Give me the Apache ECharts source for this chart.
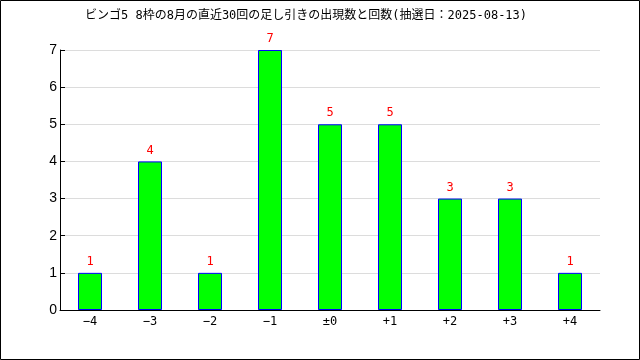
<!DOCTYPE html>
<html><head><meta charset="utf-8">
<script src="https://cdn.jsdelivr.net/npm/echarts@6/dist/echarts.min.js"></script>
<style>html,body{margin:0;padding:0;background:#fff}#c{width:640px;height:360px}</style>
</head><body><div id="c"></div>
<script>
const title = 'ビンゴ5 8枠の8月の直近30回の足し引きの出現数と回数(抽選日：2025-08-13)';
const categories = ['−4','−3','−2','−1','±0','+1','+2','+3','+4'];
const counts = [1,4,1,7,5,5,3,3,1];
const yTicks = [0,1,2,3,4,5,6,7];

const font = '"DejaVu Sans Mono", "Noto Sans CJK JP", monospace';
const chart = echarts.init(document.getElementById('c'), null, {renderer:'canvas'});
chart.setOption({
  animation:false,
  backgroundColor:'#fff',
  textStyle:{fontFamily:font},
  title:{text:title, left:80, top:5, textStyle:{fontSize:12, fontWeight:'normal', color:'#000', fontFamily:font}},
  grid:{left:60, right:40, top:50, bottom:50},
  graphic:[{type:'rect', shape:{x:0.5,y:0.5,width:639,height:359}, style:{fill:null, stroke:'#000', lineWidth:1}, silent:true}],
  xAxis:{type:'category', data:categories,
    axisLine:{lineStyle:{color:'#000'}},
    axisTick:{inside:true, length:5, lineStyle:{color:'#000'}},
    axisLabel:{color:'#000', fontSize:12, margin:6, fontFamily:font}},
  yAxis:{type:'value', min:yTicks[0], max:yTicks[yTicks.length-1], interval:1,
    axisLine:{show:true, lineStyle:{color:'#000'}},
    axisTick:{show:true, inside:true, length:5, lineStyle:{color:'#000'}},
    axisLabel:{color:'#000', fontSize:14, margin:3, fontFamily:'"Liberation Sans", sans-serif'},
    splitLine:{lineStyle:{color:'#dcdcdc'}}},
  series:[{type:'bar', data:counts, barWidth:24,
    itemStyle:{color:'#00ff00', borderColor:'#0000ff', borderWidth:1},
    label:{show:true, position:'top', color:'#ff0000', fontSize:12, distance:5, fontFamily:font}}]
});
</script></body></html>
